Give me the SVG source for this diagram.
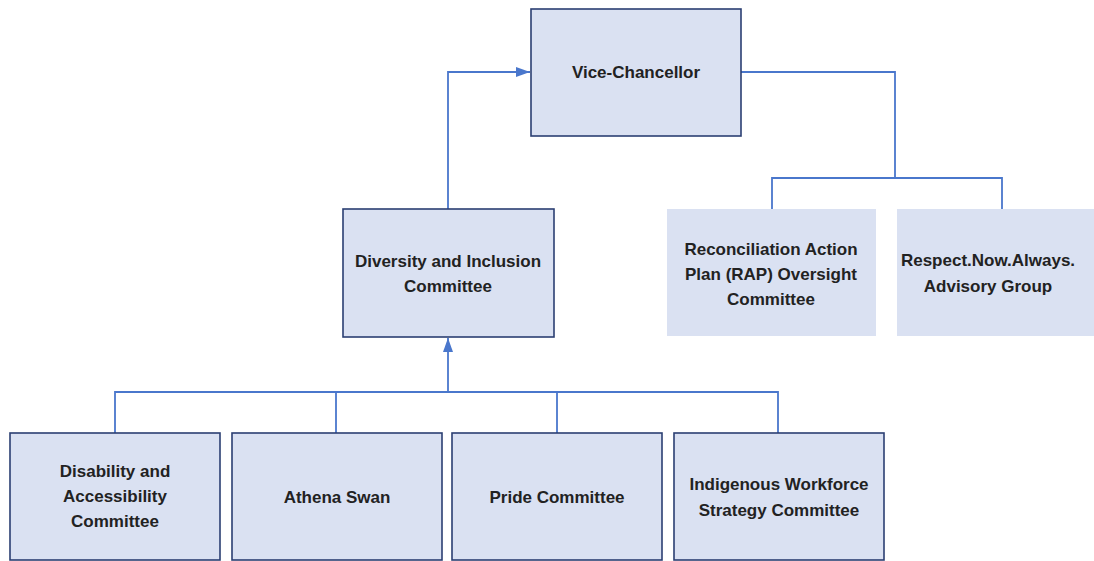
<svg xmlns="http://www.w3.org/2000/svg" width="1094" height="561" viewBox="0 0 1094 561">
  <style>
    .box { fill: #dae1f2; stroke: #2b3f72; stroke-width: 1.6; }
    .plain { fill: #dae1f2; stroke: none; }
    .lbl { font-family: "Liberation Sans", Arial, sans-serif; font-weight: bold; font-size: 17px; fill: #222222; text-anchor: middle; }
    .wire { fill: none; stroke: #4a77cc; stroke-width: 1.8; }
  </style>
  <defs>
    <marker id="tip" viewBox="0 0 14 10" refX="14" refY="5" markerWidth="14" markerHeight="10" orient="auto" markerUnits="userSpaceOnUse">
      <path d="M0,0 L14,5 L0,10 z" fill="#4a77cc"/>
    </marker>
  </defs>
  <rect width="1094" height="561" fill="#ffffff"/>

  <g id="connectors">
    <!-- Diversity and Inclusion Committee reports up to the Vice-Chancellor -->
    <path class="wire" d="M448,209 V72 H530" marker-end="url(#tip)"/>
    <!-- Vice-Chancellor to the two advisory bodies -->
    <path class="wire" d="M741,72 H895 V178"/>
    <path class="wire" d="M772,209 V178 H1002 V209"/>
    <!-- Sub-committees feed into Diversity and Inclusion -->
    <path class="wire" d="M448,392 V338" marker-end="url(#tip)"/>
    <path class="wire" d="M115,433 V392 H778 V433"/>
    <path class="wire" d="M336,392 V433"/>
    <path class="wire" d="M557,392 V433"/>
  </g>

  <g id="vice-chancellor">
    <rect class="box" x="531" y="9" width="210" height="127"/>
    <text class="lbl" x="636" y="78">Vice-Chancellor</text>
  </g>

  <g id="diversity-inclusion">
    <rect class="box" x="343" y="209" width="211" height="128"/>
    <text class="lbl" x="448" y="267">Diversity and Inclusion</text>
    <text class="lbl" x="448" y="292">Committee</text>
  </g>

  <g id="rap-oversight">
    <rect class="plain" x="667" y="209" width="209" height="127"/>
    <text class="lbl" x="771" y="255">Reconciliation Action</text>
    <text class="lbl" x="771" y="280">Plan (RAP) Oversight</text>
    <text class="lbl" x="771" y="305">Committee</text>
  </g>

  <g id="respect-now-always">
    <rect class="plain" x="897" y="209" width="197" height="127"/>
    <text class="lbl" x="988" y="266">Respect.Now.Always.</text>
    <text class="lbl" x="988" y="292">Advisory Group</text>
  </g>

  <g id="disability-accessibility">
    <rect class="box" x="10" y="433" width="210" height="127"/>
    <text class="lbl" x="115" y="477">Disability and</text>
    <text class="lbl" x="115" y="502">Accessibility</text>
    <text class="lbl" x="115" y="527">Committee</text>
  </g>

  <g id="athena-swan">
    <rect class="box" x="232" y="433" width="210" height="127"/>
    <text class="lbl" x="337" y="503">Athena Swan</text>
  </g>

  <g id="pride">
    <rect class="box" x="452" y="433" width="210" height="127"/>
    <text class="lbl" x="557" y="503">Pride Committee</text>
  </g>

  <g id="indigenous-workforce">
    <rect class="box" x="674" y="433" width="210" height="127"/>
    <text class="lbl" x="779" y="490">Indigenous Workforce</text>
    <text class="lbl" x="779" y="516">Strategy Committee</text>
  </g>
</svg>
